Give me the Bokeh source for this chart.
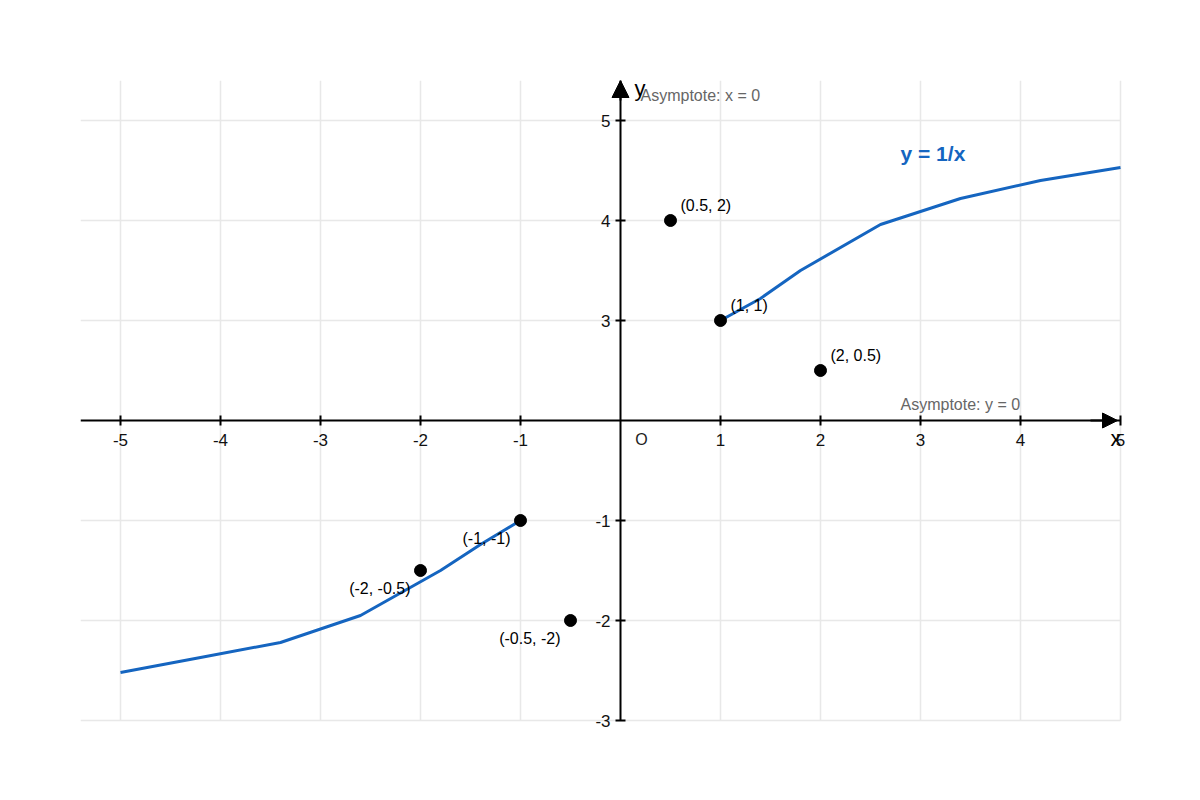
from bokeh.plotting import figure
from bokeh.models import Range1d, FixedTicker, Arrow, NormalHead
from bokeh.core.properties import value
from bokeh.embed import file_html
from bokeh.resources import INLINE

# curve branches
pos_x = [1, 1.4, 1.8, 2.6, 3.4, 4.2, 5]
pos_y = [1, 1.22, 1.5, 1.96, 2.22, 2.40, 2.53]
neg_x = [-5, -4.2, -3.4, -2.6, -1.8, -1.4, -1]
neg_y = [-2.52, -2.37, -2.22, -1.95, -1.5, -1.24, -1]

# marked points and their labels
pos_pt_x = [0.5, 1, 2]
pos_pt_y = [2, 1, 0.5]
pos_pt_labels = ["(0.5, 2)", "(1, 1)", "(2, 0.5)"]
neg_pt_x = [-1, -2, -0.5]
neg_pt_y = [-1, -1.5, -2]
neg_pt_labels = ["(-1, -1)", "(-2, -0.5)", "(-0.5, -2)"]

# ticks
x_ticks = [-5, -4, -3, -2, -1, 1, 2, 3, 4, 5]
x_tick_labels = ["-5", "-4", "-3", "-2", "-1", "1", "2", "3", "4", "5"]
y_ticks = [-3, -2, -1, 1, 2, 3]
y_tick_labels = ["-3", "-2", "-1", "3", "4", "5"]

# extent of the drawn axes / grid
x_lo, x_hi = -5.4, 5
y_lo, y_hi = -3, 3.4

FONT = "Liberation Sans"
BLUE = "#1565c0"

# frame a bit larger than the axes so end labels are not clipped
p = figure(frame_width=1070, frame_height=670,
           x_range=Range1d(x_lo, 5.3), y_range=Range1d(-3.3, y_hi),
           output_backend="svg", toolbar_location=None,
           min_border_left=80, min_border_top=80, min_border_right=10, min_border_bottom=10)
p.outline_line_color = None
p.background_fill_color = "white"
p.grid.visible = False

# grid lines
p.segment(x0=x_ticks, y0=y_lo, x1=x_ticks, y1=y_hi, line_color="#e8e8e8", line_width=1.5)
p.segment(x0=x_lo, y0=y_ticks, x1=x_hi, y1=y_ticks, line_color="#e8e8e8", line_width=1.5)

# axes through the origin
for ax, ticks, labels, bnds in ((p.xaxis, x_ticks, x_tick_labels, (x_lo, x_hi)),
                                (p.yaxis, y_ticks, y_tick_labels, (y_lo, y_hi))):
    ax.fixed_location = 0
    ax.bounds = bnds
    ax.ticker = FixedTicker(ticks=ticks)
    ax.major_label_overrides = {t: l for t, l in zip(ticks, labels)}
    ax.axis_line_color = "black"
    ax.axis_line_width = 2
    ax.major_tick_line_color = "black"
    ax.major_tick_line_width = 2
    ax.major_tick_in = 5
    ax.major_tick_out = 5
    ax.minor_tick_line_color = None
    ax.major_label_text_font = FONT
    ax.major_label_text_font_size = "17px"
    ax.major_label_text_color = "#111111"
p.xaxis.major_label_standoff = 8
p.yaxis.major_label_standoff = 5

# arrow heads on the axes
p.add_layout(Arrow(end=NormalHead(size=17, fill_color="black", line_color="black"),
                   x_start=0, y_start=3.2, x_end=0, y_end=y_hi,
                   line_color="black", line_width=2))
p.add_layout(Arrow(end=NormalHead(size=15, fill_color="black", line_color="black"),
                   x_start=4.7, y_start=0, x_end=4.97, y_end=0,
                   line_color="black", line_width=2))

# curve
p.line(pos_x, pos_y, line_color=BLUE, line_width=3)
p.line(neg_x, neg_y, line_color=BLUE, line_width=3)

# points
p.scatter(pos_pt_x + neg_pt_x, pos_pt_y + neg_pt_y, size=12, color="black")
p.text(pos_pt_x, pos_pt_y, text=pos_pt_labels, x_offset=10, y_offset=-15,
       text_align="left", text_baseline="middle", text_font=value(FONT),
       text_font_size="16px", text_color="black")
p.text(neg_pt_x, neg_pt_y, text=neg_pt_labels, x_offset=-10, y_offset=18,
       text_align="right", text_baseline="middle", text_font=value(FONT),
       text_font_size="16px", text_color="black")

# annotations
p.text([2.8], [2.67], text=["y = 1/x"], text_align="left", text_baseline="middle",
       text_font=value(FONT), text_font_size="21px", text_font_style="bold", text_color=BLUE)
p.text([0.2, 2.8], [3.25, 0.16], text=["Asymptote: x = 0", "Asymptote: y = 0"],
       text_align="left", text_baseline="middle", text_font=value(FONT),
       text_font_size="16px", text_color="#666666")
p.text([0.21], [-0.19], text=["O"], text_align="center", text_baseline="middle",
       text_font=value(FONT), text_font_size="16px", text_color="#222222")
p.text([0.14, 4.9], [3.32, -0.18], text=["y", "x"], text_align="left", text_baseline="middle",
       text_font=value(FONT), text_font_size="22px", text_color="black")

open("out.html", "w").write(file_html(p, INLINE))
